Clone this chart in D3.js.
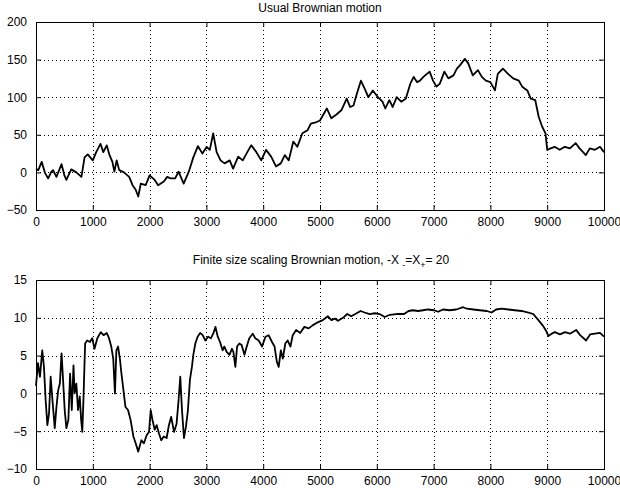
<!DOCTYPE html>
<html>
<head>
<meta charset="utf-8">
<script src="https://cdn.jsdelivr.net/npm/d3@7"></script>
<style>
  body { margin: 0; background: #fff; }
  svg { display: block; }
  text { font-family: "Liberation Sans", Arial, sans-serif; font-size: 12px; fill: #000; }
</style>
</head>
<body>
<svg width="620" height="488"></svg>
<script>
// top panel (usual Brownian motion)
const topX = [0, 40, 100, 160, 215, 270, 300, 360, 450, 500, 535, 620, 710, 800, 855, 910, 1000, 1060, 1135, 1185, 1245, 1290, 1345, 1380, 1420, 1465, 1550, 1640, 1700, 1755, 1800, 1845, 1930, 2000, 2090, 2150, 2250, 2310, 2370, 2450, 2510, 2600, 2690, 2770, 2850, 2930, 3005, 3060, 3120, 3180, 3250, 3320, 3410, 3470, 3560, 3640, 3720, 3790, 3880, 3965, 4050, 4140, 4225, 4310, 4380, 4450, 4530, 4600, 4690, 4780, 4840, 4940,
  5000, 5120, 5200, 5290, 5380, 5470, 5530, 5590, 5650, 5720, 5800, 5850, 5930, 6020, 6100, 6150, 6220, 6280, 6350, 6430, 6510, 6590, 6650, 6710, 6760, 6820, 6930, 6990, 7050, 7110, 7190, 7260, 7350, 7410, 7470, 7550, 7610, 7690, 7780, 7850, 7920, 8000, 8080, 8130, 8220, 8310, 8400, 8500, 8560, 8650, 8710, 8790, 8850, 8910, 8970, 9000, 9060, 9130, 9220, 9310, 9400, 9500, 9570, 9680, 9750, 9840, 9930, 10000];
const topY = [5, 3, 14, -1, -8, 1, 3, -6, 11, -4, -10, 4, 0, -6, 20, 24, 16, 27, 38, 27, 36, 24, 14, 1, 16, 3, 0, -6, -17, -23, -32, -15, -17, -4, -10, -17, -12, -6, -8, -8, 1, -15, 1, 20, 35, 25, 34, 30, 52, 27, 16, 12, 16, 5, 21, 16, 27, 36, 27, 16, 30, 21, 8, 12, 23, 16, 41, 34, 52, 56, 65, 67,
  69, 85, 72, 77, 83, 98, 87, 89, 105, 122, 109, 100, 109, 100, 94, 85, 96, 87, 100, 94, 98, 118, 127, 120, 122, 127, 134, 122, 114, 118, 134, 125, 129, 138, 143, 151, 145, 129, 136, 127, 122, 120, 109, 131, 138, 131, 125, 122, 114, 109, 98, 96, 74, 61, 52, 30, 32, 34, 30, 34, 32, 39, 32, 23, 32, 30, 34, 27];

// bottom panel (finite size scaling, -X- = X+ = 20)
const botX = [0, 35, 70, 110, 140, 170, 200, 230, 258, 290, 330, 360, 390, 420, 450, 480, 505, 535, 570, 600, 630, 660, 680, 710, 740, 770, 795, 815, 835, 865, 900, 950, 990, 1030, 1080, 1140, 1190, 1245, 1285, 1325, 1360, 1390, 1415, 1445, 1480, 1500, 1535, 1575, 1620, 1665, 1715, 1755, 1800, 1855, 1900, 1950, 1990, 2020, 2050, 2090, 2125, 2165, 2205, 2250, 2300, 2340, 2380, 2430, 2475, 2510, 2540, 2570, 2605, 2640, 2675, 2710, 2745, 2770, 2805, 2845, 2890, 2935, 2980, 3030, 3080, 3120, 3160, 3200, 3240, 3285, 3315, 3357, 3405, 3450, 3475, 3510, 3540, 3580, 3620, 3670, 3710, 3755, 3815, 3860, 3920, 3980, 4040, 4095, 4155, 4200, 4240, 4273, 4310, 4345, 4390, 4430, 4480, 4520, 4580, 4650, 4725, 4800, 4870, 4960,
  5050, 5140, 5200, 5260, 5317, 5405, 5480, 5550, 5620, 5715, 5785, 5875, 5963, 6050, 6140, 6230, 6345, 6480, 6560, 6635, 6725, 6815, 6900, 7008, 7080, 7165, 7280, 7400, 7520, 7585, 7700, 7815, 7935, 8020, 8100, 8200, 8315, 8430, 8550, 8670, 8755, 8845, 8920, 8980, 9020, 9080, 9135, 9225, 9315, 9400, 9510, 9580, 9685, 9755, 9840, 9930, 10000];
const botY = [1, 4, 2.2, 5.7, 3.5, -0.9, -4.2, -2.6, 2.2, -0.9, -4.6, -1.8, 0.4, 1.3, 5.3, 1.3, -2.2, -4.6, -3.5, 2.6, -2.2, 3.7, 0, 1.3, -2.2, -0.4, -3.5, -5.1, -0.9, 6.6, 7, 6.8, 7.3, 5.9, 7.3, 8.1, 7.7, 8, 7.3, 6.2, 4.6, 0, 5.7, 6.2, 4.4, 2.9, 0.7, -1.8, -2.2, -3.5, -5.7, -6.6, -7.7, -6.2, -6.6, -5.5, -5.1, -2.2, -3.5, -4.8, -4.2, -5.3, -6.2, -5.7, -5.9, -4.2, -3.1, -5.1, -4, -0.9, 2.2, -2.2, -5.9, -4.4, -2.2, 1.8, 3.5, 5.1, 6.6, 7.5, 8, 7.7, 7, 7.5, 7.3, 7.9, 8.8, 7.5, 6.8, 5.7, 6.2, 5.5, 5.1, 5.9, 5.5, 3.5, 6.2, 6.6, 6.4, 5.1, 6.2, 7.3, 7.9, 7.3, 7, 6.2, 7.5, 7.7, 6.8, 6.2, 4.2, 3.5, 5.7, 4.6, 6.6, 7, 6.2, 7.7, 8.4, 8, 8.8, 8.6, 9, 9.4,
  9.7, 10.2, 9.7, 9.9, 9.6, 10, 10.5, 10.2, 10.5, 10.9, 10.7, 10.5, 10.6, 10.5, 10.1, 10.4, 10.5, 10.5, 10.9, 11, 10.9, 11, 11.1, 11, 10.8, 11.1, 11, 11.1, 11.4, 11.2, 11.1, 11, 10.9, 10.7, 11.1, 11.2, 11.1, 11, 10.9, 10.7, 10.5, 9.7, 9, 8.3, 7.6, 7.9, 8.1, 7.8, 8.1, 7.9, 8.4, 7.7, 7, 7.8, 7.9, 8, 7.5];

const xTicks = d3.range(0, 10001, 1000);
const topTicks = [-50, 0, 50, 100, 150, 200];
const botTicks = [-10, -5, 0, 5, 10, 15];

const svg = d3.select('svg');
const left = 36, right = 604;

const panels = [
  { xs: topX, ys: topY, domain: [-50, 200], ticks: topTicks, top: 22, bottom: 210 },
  { xs: botX, ys: botY, domain: [-10, 15], ticks: botTicks, top: 280, bottom: 469 }
];

const xScale = d3.scaleLinear().domain([0, 10000]).range([left, right]);

panels.forEach(p => {
  const yScale = d3.scaleLinear().domain(p.domain).range([p.bottom, p.top]);
  const g = svg.append('g');
  const h = p.bottom - p.top;

  // dotted grid
  g.selectAll('.vgrid')
    .data(xTicks.slice(1, -1))
    .enter().append('line')
    .attr('x1', d => Math.round(xScale(d)) + 0.5)
    .attr('x2', d => Math.round(xScale(d)) + 0.5)
    .attr('y1', p.top).attr('y2', p.bottom)
    .attr('stroke', '#000').attr('stroke-width', 1)
    .attr('stroke-dasharray', '1,3');
  g.selectAll('.hgrid')
    .data(p.ticks.slice(1, -1))
    .enter().append('line')
    .attr('y1', d => Math.round(yScale(d)) + 0.5)
    .attr('y2', d => Math.round(yScale(d)) + 0.5)
    .attr('x1', left).attr('x2', right)
    .attr('stroke', '#000').attr('stroke-width', 1)
    .attr('stroke-dasharray', '1,3');

  // axes with inward ticks on all four sides
  const xb = g.append('g')
    .attr('transform', `translate(0,${p.bottom})`)
    .call(d3.axisBottom(xScale).tickValues(xTicks).tickSize(-5).tickPadding(7).tickFormat(d3.format('d')));
  const xt = g.append('g')
    .attr('transform', `translate(0,${p.top})`)
    .call(d3.axisTop(xScale).tickValues(xTicks).tickSize(-5).tickFormat(''));
  const yl = g.append('g')
    .attr('transform', `translate(${left},0)`)
    .call(d3.axisLeft(yScale).tickValues(p.ticks).tickSize(-5).tickPadding(9));
  const yr = g.append('g')
    .attr('transform', `translate(${right},0)`)
    .call(d3.axisRight(yScale).tickValues(p.ticks).tickSize(-5).tickFormat(''));

  [xb, xt, yl, yr].forEach(a => {
    a.select('.domain').remove();
    a.selectAll('text').style('font-family', '"Liberation Sans", Arial, sans-serif').style('font-size', '12px');
    a.selectAll('line').attr('stroke', '#000');
  });

  g.append('rect')
    .attr('x', left + 0.5).attr('y', p.top + 0.5)
    .attr('width', right - left).attr('height', h)
    .attr('fill', 'none').attr('stroke', '#000').attr('stroke-width', 1);

  const pts = p.xs.map((x, i) => [x, p.ys[i]]);
  const line = d3.line().x(d => xScale(d[0])).y(d => yScale(d[1]));
  g.append('path')
    .datum(pts)
    .attr('d', line)
    .attr('fill', 'none')
    .attr('stroke', '#000')
    .attr('stroke-width', 1.8)
    .attr('stroke-linejoin', 'round');
});

// titles
svg.append('text')
  .attr('x', 320).attr('y', 12)
  .attr('text-anchor', 'middle')
  .text('Usual Brownian motion');

const t2 = svg.append('text')
  .attr('x', 321).attr('y', 264)
  .attr('text-anchor', 'middle');
t2.append('tspan').text('Finite size scaling Brownian motion, -X ');
t2.append('tspan').attr('dy', 4).style('font-size', '9px').text('-');
t2.append('tspan').attr('dy', -4).text('=X');
t2.append('tspan').attr('dy', 4).style('font-size', '9px').text('+');
t2.append('tspan').attr('dy', -4).text('= 20');
</script>
</body>
</html>
